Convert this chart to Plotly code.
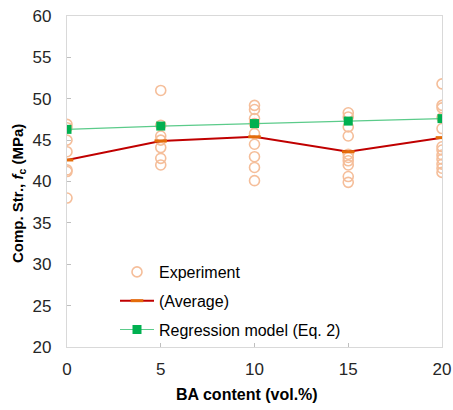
import plotly.graph_objects as go

ba_levels = [0, 5, 10, 15, 20]
exp_x = ([0] * 7 + [5] * 7 + [10] * 9 + [15] * 10 + [20] * 12)
exp_y = [46.9, 46.5, 45.0, 43.6, 41.4, 41.2, 38.0,
         51.0, 46.8, 45.5, 45.0, 44.1, 42.8, 42.0,
         49.2, 48.7, 47.6, 47.0, 45.8, 44.5, 43.0, 41.7, 40.1,
         48.3, 47.8, 46.6, 45.5, 43.3, 42.9, 42.5, 42.0, 40.6, 39.9,
         51.8, 49.2, 48.9, 47.7, 46.4, 44.2, 43.8, 43.2, 42.7, 42.1, 41.6, 41.1]
avg_y = [42.6, 44.9, 45.4, 43.6, 45.3]
reg_y = [46.3, 46.7, 47.0, 47.3, 47.6]
y_ticks = [20, 25, 30, 35, 40, 45, 50, 55, 60]

fig = go.Figure()
fig.add_trace(go.Scatter(
    x=exp_x, y=exp_y, mode="markers", name="Experiment", legendgroup="a",
    marker=dict(symbol="circle-open", size=10, color="#F5BE9A",
                line=dict(width=1.6, color="#F5BE9A"))))
fig.add_trace(go.Scatter(
    x=ba_levels, y=avg_y, mode="lines+markers", name="(Average)", legendgroup="b",
    line=dict(color="#C00000", width=2),
    marker=dict(symbol="line-ew", size=9, color="#E46C0A",
                line=dict(width=3, color="#E46C0A"))))
fig.add_trace(go.Scatter(
    x=ba_levels, y=reg_y, mode="lines+markers", name="Regression model (Eq. 2)", legendgroup="c",
    line=dict(color="#5BCB8A", width=1.2),
    marker=dict(symbol="square", size=9, color="#00B050")))

font_family = "Liberation Sans, Arial"
axis_common = dict(showline=True, linecolor="#D9D9D9", linewidth=1.3, mirror=True,
                   ticks="inside", ticklen=4, tickcolor="#BFBFBF", showgrid=False,
                   zeroline=False, automargin=False, ticklabeloverflow="allow",
                   tickfont=dict(family=font_family, size=17, color="#262626"))
fig.update_xaxes(range=[0, 20], tickvals=ba_levels, ticklabelstandoff=6, **axis_common)
fig.update_yaxes(range=[20, 60], tickvals=y_ticks, ticklabelstandoff=11, **axis_common)

fig.add_annotation(text="<b>BA content (vol.%)</b>", xref="paper", yref="paper",
                   x=0.481, y=-0.145, xanchor="center", yanchor="middle", showarrow=False,
                   font=dict(family=font_family, size=16, color="#000000"))
fig.add_annotation(text="<b>Comp. Str., <i>f</i><sub>c</sub> (MPa)</b>", xref="paper", yref="paper",
                   x=-0.131, y=0.465, xanchor="center", yanchor="middle", showarrow=False,
                   textangle=-90, font=dict(family=font_family, size=15, color="#000000"))

fig.update_layout(
    width=453, height=410,
    margin=dict(l=67, r=11, t=16, b=63),
    plot_bgcolor="white", paper_bgcolor="white",
    showlegend=True,
    legend=dict(x=0.128, y=0.278, xanchor="left", yanchor="top",
                bgcolor="rgba(0,0,0,0)", font=dict(family=font_family, size=16, color="#000000"),
                tracegroupgap=5, itemwidth=34),
)
fig.write_html("out.html", config={"displayModeBar": False},
               post_script="document.body.style.margin='0';")
